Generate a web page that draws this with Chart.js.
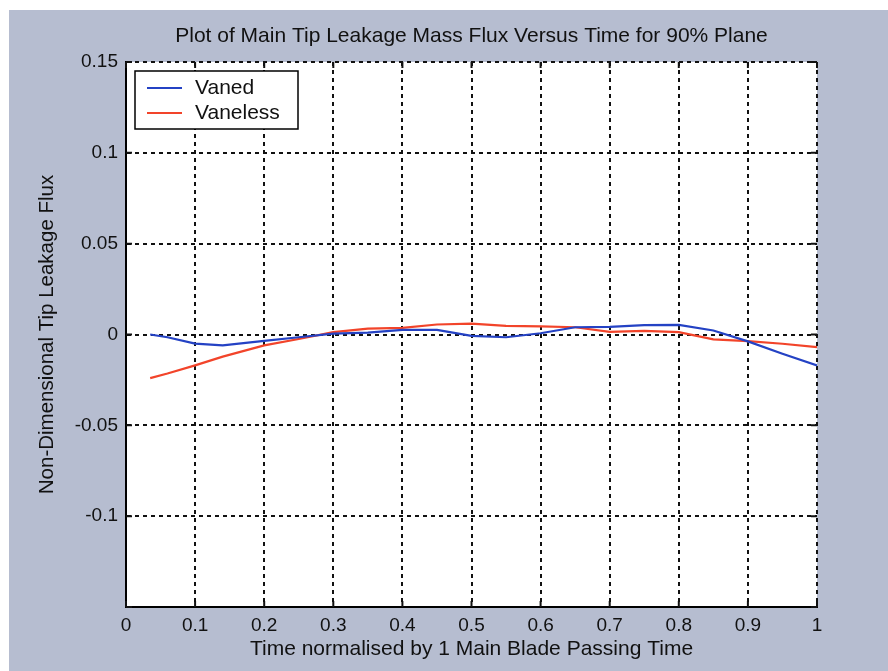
<!DOCTYPE html>
<html>
<head>
<meta charset="utf-8">
<title>Main Tip Leakage Mass Flux</title>
<script src="https://cdn.jsdelivr.net/npm/chart.js@4/dist/chart.umd.min.js"></script>
<style>
    html, body { margin: 0; padding: 0; background: #b6bdd0; }
    #wrap { width: 888px; height: 671px; }
</style>
</head>
<body>
<div id="wrap"><canvas id="fluxChart" width="888" height="671"></canvas></div>
<script>
// Normalised time samples shared by both series
const timeSteps = [0.035, 0.06, 0.1, 0.14, 0.2, 0.25, 0.3, 0.35, 0.4, 0.45, 0.5,
    0.55, 0.6, 0.65, 0.7, 0.75, 0.8, 0.85, 0.9, 0.95, 1.0];

// Non-dimensional tip leakage flux
const vanedFlux = [0, -0.0015, -0.005, -0.006, -0.0035, -0.0015, 0.0005, 0.001, 0.0025, 0.0025, -0.0008,
    -0.0015, 0.0007, 0.004, 0.0042, 0.0052, 0.0053, 0.0022, -0.0038, -0.0106, -0.017];
const vanelessFlux = [-0.024, -0.0215, -0.017, -0.0122, -0.006, -0.0025, 0.0013, 0.0032, 0.0037, 0.0055, 0.006,
    0.0047, 0.0045, 0.004, 0.0014, 0.002, 0.0013, -0.0027, -0.0037, -0.0051, -0.007];

const seriesNames = ['Vaned', 'Vaneless'];
const xTickValues = [0, 0.1, 0.2, 0.3, 0.4, 0.5, 0.6, 0.7, 0.8, 0.9, 1];
const xTickLabels = ['0', '0.1', '0.2', '0.3', '0.4', '0.5', '0.6', '0.7', '0.8', '0.9', '1'];
const yTickValues = [-0.15, -0.1, -0.05, 0, 0.05, 0.1, 0.15];
const yTickLabels = ['', '-0.1', '-0.05', '0', '0.05', '0.1', '0.15'];

const chartTitle = 'Plot of Main Tip Leakage Mass Flux Versus Time for 90% Plane';

const FONT = 'Liberation Sans, Arial, sans-serif';

function toPoints(values) {
    return timeSteps.map((t, i) => ({ x: t, y: values[i] }));
}

function labelFor(values, labels, v) {
    const i = values.findIndex(t => Math.abs(t - v) < 1e-9);
    return i >= 0 ? labels[i] : '';
}

// Page background, white plot box, title, inward ticks and boxed legend
const figurePlugin = {
    id: 'figure',
    beforeDraw(chart) {
        const { ctx, chartArea: a } = chart;
        ctx.save();
        ctx.fillStyle = '#b6bdd0';
        ctx.fillRect(0, 0, chart.width, chart.height);
        ctx.fillStyle = '#ffffff';
        ctx.fillRect(0, 0, chart.width, 10);
        ctx.fillRect(0, 0, 9, chart.height);
        ctx.fillRect(a.left, a.top, a.right - a.left, a.bottom - a.top);
        ctx.restore();
    },
    afterDraw(chart) {
        const { ctx, chartArea: a, scales } = chart;
        ctx.save();

        // title
        ctx.fillStyle = '#111';
        ctx.font = '21px ' + FONT;
        ctx.textAlign = 'center';
        ctx.textBaseline = 'middle';
        ctx.fillText(chartTitle, (a.left + a.right) / 2, 36);

        // inward ticks on all four sides
        const len = 6;
        ctx.strokeStyle = '#111';
        ctx.lineWidth = 2;
        ctx.beginPath();
        xTickValues.forEach(v => {
            const px = scales.x.getPixelForValue(v);
            ctx.moveTo(px, a.bottom); ctx.lineTo(px, a.bottom - len);
            ctx.moveTo(px, a.top); ctx.lineTo(px, a.top + len);
        });
        yTickValues.forEach(v => {
            const py = scales.y.getPixelForValue(v);
            ctx.moveTo(a.left, py); ctx.lineTo(a.left + len, py);
            ctx.moveTo(a.right, py); ctx.lineTo(a.right - len, py);
        });
        ctx.stroke();

        // legend box
        const bx = a.left + 9, by = a.top + 9, bw = 163, bh = 58;
        ctx.fillStyle = '#ffffff';
        ctx.fillRect(bx, by, bw, bh);
        ctx.strokeStyle = '#000';
        ctx.lineWidth = 1.5;
        ctx.strokeRect(bx, by, bw, bh);
        ctx.font = '21px ' + FONT;
        ctx.textAlign = 'left';
        chart.data.datasets.forEach((ds, i) => {
            const ly = by + 17 + i * 25;
            ctx.strokeStyle = ds.borderColor;
            ctx.lineWidth = 2;
            ctx.beginPath();
            ctx.moveTo(bx + 12, ly);
            ctx.lineTo(bx + 47, ly);
            ctx.stroke();
            ctx.fillStyle = '#111';
            ctx.fillText(ds.label, bx + 60, ly);
        });
        ctx.restore();
    }
};

document.addEventListener('DOMContentLoaded', () => {
    const ctx = document.getElementById('fluxChart').getContext('2d');

    new Chart(ctx, {
        type: 'line',
        data: {
            datasets: [{
                label: seriesNames[0],
                data: toPoints(vanedFlux),
                borderColor: '#2442c4',
                borderWidth: 2.2,
                pointRadius: 0,
                tension: 0,
                fill: false
            }, {
                label: seriesNames[1],
                data: toPoints(vanelessFlux),
                borderColor: '#f2442a',
                borderWidth: 2.2,
                pointRadius: 0,
                tension: 0,
                fill: false
            }]
        },
        options: {
            responsive: false,
            animation: false,
            layout: { padding: { top: 62, right: 71, left: 0, bottom: 0 } },
            plugins: {
                legend: { display: false },
                title: { display: false },
                tooltip: { enabled: false }
            },
            scales: {
                x: {
                    type: 'linear',
                    min: 0,
                    max: 1,
                    afterBuildTicks: scale => { scale.ticks = xTickValues.map(v => ({ value: v })); },
                    afterFit: scale => { scale.height = 64; },
                    ticks: {
                        padding: 7,
                        maxRotation: 0,
                        color: '#111',
                        font: { family: FONT, size: 19 },
                        callback: v => labelFor(xTickValues, xTickLabels, v)
                    },
                    grid: { color: '#111', lineWidth: 2, drawTicks: false },
                    border: { color: '#000', width: 2, dash: [4, 4] },
                    title: {
                        display: true,
                        text: 'Time normalised by 1 Main Blade Passing Time',
                        color: '#111',
                        font: { family: FONT, size: 21 },
                        padding: { top: 0, bottom: 9 }
                    }
                },
                y: {
                    type: 'linear',
                    min: -0.15,
                    max: 0.15,
                    afterBuildTicks: scale => { scale.ticks = yTickValues.map(v => ({ value: v })); },
                    afterFit: scale => { scale.width = 126; },
                    ticks: {
                        padding: 8,
                        color: '#111',
                        font: { family: FONT, size: 19 },
                        callback: v => labelFor(yTickValues, yTickLabels, v)
                    },
                    grid: { color: '#111', lineWidth: 2, drawTicks: false },
                    border: { color: '#000', width: 2, dash: [4, 4] },
                    title: {
                        display: true,
                        text: 'Non-Dimensional Tip Leakage Flux',
                        color: '#111',
                        font: { family: FONT, size: 20.5 },
                        padding: { top: 35, bottom: 0 }
                    }
                }
            }
        },
        plugins: [figurePlugin]
    });
});
</script>
</body>
</html>
